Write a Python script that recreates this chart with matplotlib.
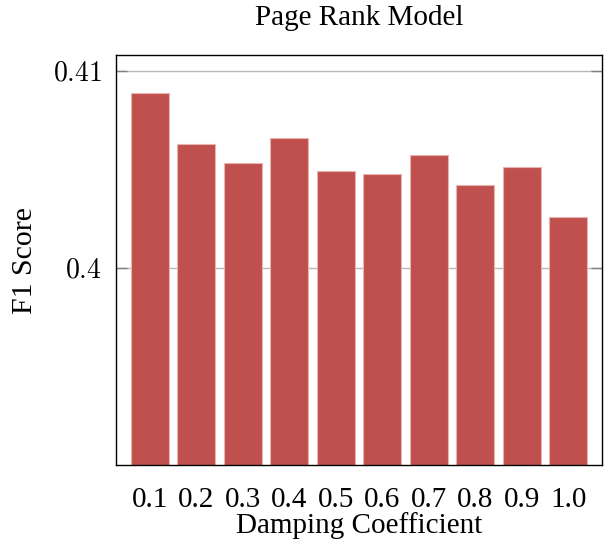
import matplotlib

matplotlib.use("Agg")
import matplotlib.pyplot as plt
import numpy as np

plt.rcParams.update(
    {
        "font.family": "serif",
        "font.serif": ["Liberation Serif", "DejaVu Serif"],
        "mathtext.fontset": "cm",
    }
)

# values
damping = ["0.1", "0.2", "0.3", "0.4", "0.5", "0.6", "0.7", "0.8", "0.9", "1.0"]
f1_score = [0.40890, 0.40631, 0.40531, 0.40660, 0.40492,
            0.40477, 0.40572, 0.40420, 0.40510, 0.40257]
y_ticks = [0.40, 0.41]
y_tick_labels = ["0.4", "0.41"]

BAR_COLOR = "#c0504d"

fig = plt.figure(figsize=(6.07, 5.44), dpi=100)
ax = fig.add_axes([0.191, 0.145, 0.801, 0.753])

x = np.arange(len(damping))
ax.bar(x, f1_score, width=0.82, color=BAR_COLOR, edgecolor="#e8b4b2",
       linewidth=0.8, zorder=2)

ax.set_xlim(-0.73, len(damping) - 1 + 0.73)
ax.set_ylim(0.38998, 0.41078)

ax.set_yticks(y_ticks)
ax.set_yticklabels([f"${t}$" for t in y_tick_labels], fontsize=20)
ax.yaxis.grid(True, color="#b8b8b8", linewidth=1.0, zorder=1)
ax.tick_params(axis="y", direction="in", length=8, width=1.0,
               color="#808080", left=True, right=True, pad=10)

ax.set_xticks(x)
ax.set_xticklabels(damping, fontsize=21)
ax.tick_params(axis="x", length=0, pad=16)

for spine in ax.spines.values():
    spine.set_color("black")
    spine.set_linewidth(1.0)

ax.set_xlabel("Damping Coefficient", fontsize=21, labelpad=-1)
ax.set_ylabel("F1 Score", fontsize=21.5, labelpad=11)
ax.set_title("Page Rank Model", fontsize=21, pad=22)

fig.savefig("out.png", dpi=100)
